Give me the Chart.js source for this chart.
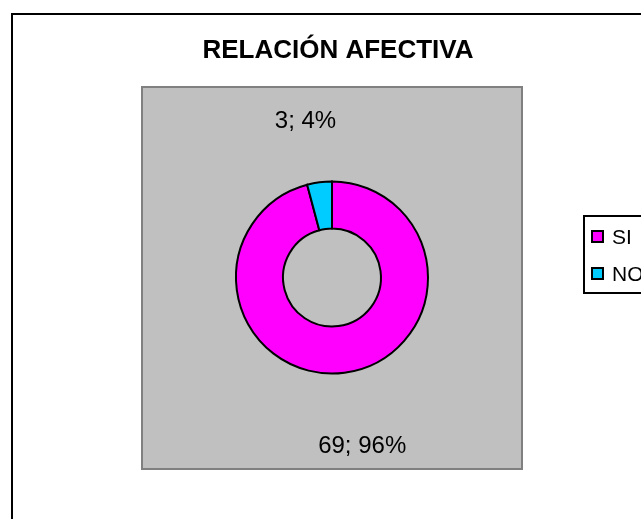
<!DOCTYPE html>
<html>
<head>
<meta charset="utf-8">
<script src="https://cdn.jsdelivr.net/npm/chart.js@4/dist/chart.umd.min.js"></script>
<style>
  html, body { margin: 0; padding: 0; background: #fff; }
  #wrap { width: 641px; height: 519px; }
</style>
</head>
<body>
<div id="wrap"><canvas id="chart" width="641" height="519"></canvas></div>
<script>
// chart data
const chartTitle = "RELACIÓN AFECTIVA";
const categories = ["SI", "NO"];
const counts = [69, 3];
const percents = [96, 4];

// styles
const sliceColors = ["#FF00FF", "#00CCFF"];
const labelDistance = [170, 157];
const labelShiftX = [8, -6];
const font = "'Liberation Sans', Arial, sans-serif";

// background, frame, gray plot box and title
const backgroundPlugin = {
  id: "background",
  beforeDraw(chart) {
    const ctx = chart.ctx;
    ctx.save();
    ctx.fillStyle = "#fff";
    ctx.fillRect(0, 0, chart.width, chart.height);

    // outer frame (clipped on right and bottom)
    ctx.strokeStyle = "#000";
    ctx.lineWidth = 2;
    ctx.beginPath();
    ctx.moveTo(12, chart.height);
    ctx.lineTo(12, 14);
    ctx.lineTo(chart.width, 14);
    ctx.stroke();

    // plot area
    ctx.fillStyle = "#C0C0C0";
    ctx.fillRect(142, 87, 380, 382);
    ctx.strokeStyle = "#808080";
    ctx.lineWidth = 2;
    ctx.strokeRect(142, 87, 380, 382);

    // title
    ctx.fillStyle = "#000";
    ctx.font = "bold 26px " + font;
    ctx.textAlign = "center";
    ctx.textBaseline = "middle";
    ctx.fillText(chartTitle, 338, 51);
    ctx.restore();
  }
};

// data labels and legend
const labelsPlugin = {
  id: "sliceLabels",
  afterDraw(chart) {
    const ctx = chart.ctx;
    const meta = chart.getDatasetMeta(0);
    ctx.save();
    ctx.fillStyle = "#000";
    ctx.font = "24px " + font;
    ctx.textAlign = "center";
    ctx.textBaseline = "middle";
    meta.data.forEach((arc, i) => {
      const mid = (arc.startAngle + arc.endAngle) / 2;
      const lx = arc.x + Math.cos(mid) * labelDistance[i] + labelShiftX[i];
      const ly = arc.y + Math.sin(mid) * labelDistance[i];
      ctx.fillText(counts[i] + "; " + percents[i] + "%", lx, ly);
    });

    // legend box
    ctx.fillStyle = "#fff";
    ctx.fillRect(584, 216, 80, 77);
    ctx.strokeStyle = "#000";
    ctx.lineWidth = 2;
    ctx.strokeRect(584, 216, 80, 77);
    ctx.font = "21px " + font;
    ctx.textAlign = "left";
    chart.data.labels.forEach((label, i) => {
      const y = 237 + i * 37;
      ctx.fillStyle = sliceColors[i];
      ctx.fillRect(592, y - 6, 11, 11);
      ctx.strokeStyle = "#000";
      ctx.lineWidth = 2;
      ctx.strokeRect(592, y - 6, 11, 11);
      ctx.fillStyle = "#000";
      ctx.fillText(label, 612, y + 1);
    });
    ctx.restore();
  }
};

new Chart(document.getElementById("chart"), {
  type: "doughnut",
  data: {
    labels: categories,
    datasets: [{
      data: counts,
      backgroundColor: sliceColors,
      borderColor: "#000",
      borderWidth: 2,
      borderJoinStyle: "miter"
    }]
  },
  options: {
    responsive: false,
    animation: false,
    cutout: "51%",
    layout: { padding: { left: 235, right: 212, top: 180, bottom: 144 } },
    plugins: {
      legend: { display: false },
      title: { display: false },
      tooltip: { enabled: false }
    }
  },
  plugins: [backgroundPlugin, labelsPlugin]
});
</script>
</body>
</html>
